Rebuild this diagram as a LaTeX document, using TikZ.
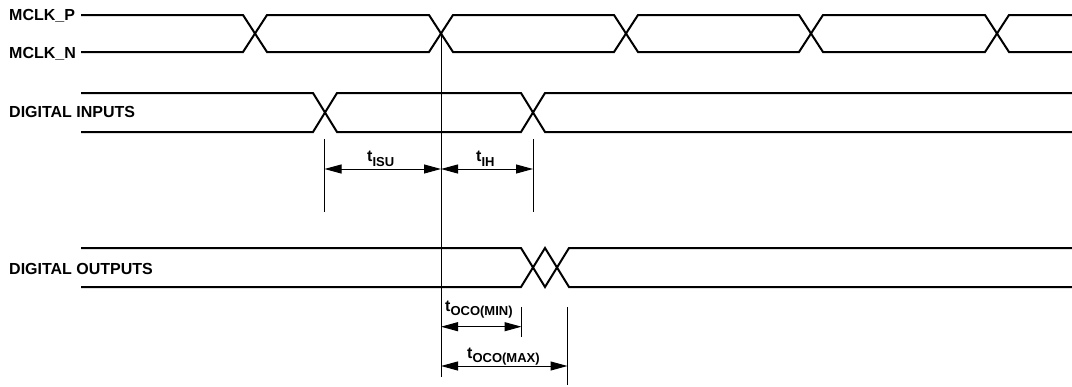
\documentclass[tikz,border=0pt]{standalone}
\usepackage{fontspec}
\setmainfont{Liberation Sans}
\usetikzlibrary{arrows.meta}
\tikzset{
  sig/.style={line width=2pt, line join=miter},
  refline/.style={line width=1pt},
  dimline/.style={line width=1pt, {Triangle[length=17pt,width=9pt]}-{Triangle[length=17pt,width=9pt]}},
  lbl/.style={font=\fontsize{16}{19}\selectfont\bfseries, anchor=base west, inner sep=0pt},
}
\newcommand{\tsubl}[1]{t\raisebox{-4.5pt}{\fontsize{13}{13}\selectfont #1}}
\begin{document}
\begin{tikzpicture}[x=1pt,y=-1pt]
\useasboundingbox (0,0) rectangle (1072,386);
% labels
\node[lbl] (lp) at (9,20) {MCLK\_P};
\node[lbl] (ln) at (9,58) {MCLK\_N};
\node[lbl] (li) at (9,117.7) {DIGITAL INPUTS};
\node[lbl] (lo) at (9,274.3) {DIGITAL OUTPUTS};
% clock
\draw[sig] (81,15) -- (243,15) -- (267,52) -- (429,52) -- (453,15) -- (614,15) -- (638,52) -- (799,52) -- (823,15) -- (985,15) -- (1009,52) -- (1072,52);
\draw[sig] (81,52) -- (243,52) -- (267,15) -- (429,15) -- (453,52) -- (614,52) -- (638,15) -- (799,15) -- (823,52) -- (985,52) -- (1009,15) -- (1072,15);
% inputs
\draw[sig] (81,93) -- (313,93) -- (337,132) -- (521,132) -- (545,93) -- (1072,93);
\draw[sig] (81,132) -- (313,132) -- (337,93) -- (521,93) -- (545,132) -- (1072,132);
% outputs
\draw[sig] (81,248) -- (521,248) -- (545,287) -- (569,248) -- (1072,248);
\draw[sig] (81,287) -- (521,287) -- (545,248) -- (569,287) -- (1072,287);
% reference line
\coordinate (rtop) at (441,33.5);
\coordinate (rbot) at (441,377);
\draw[refline] (rtop) -- (rbot);
% ticks
\coordinate (a1) at (324.5,139); \coordinate (a2) at (324.5,212);
\coordinate (b1) at (533,139);   \coordinate (b2) at (533,212);
\coordinate (c1) at (521.5,307); \coordinate (c2) at (521.5,337);
\coordinate (d1) at (567.5,307); \coordinate (d2) at (567.5,385);
\draw[refline] (a1) -- (a2);
\draw[refline] (b1) -- (b2);
\draw[refline] (c1) -- (c2);
\draw[refline] (d1) -- (d2);
% dimension arrows
\coordinate (isuL) at (324.5,169); \coordinate (isuR) at (441,169);
\coordinate (ihR) at (533,169);
\coordinate (minL) at (441,326.7); \coordinate (minR) at (521.5,326.7);
\coordinate (maxL) at (441,366);   \coordinate (maxR) at (567.5,366);
\draw[dimline] (isuL) -- (isuR);
\draw[dimline] (isuR) -- (ihR);
\draw[dimline] (minL) -- (minR);
\draw[dimline] (maxL) -- (maxR);
% timing labels
\node[lbl] (tisu) at (367,161.7) {\tsubl{ISU}};
\node[lbl] (tih) at (476,161.7) {\tsubl{IH}};
\node[lbl] (tmin) at (445,311) {\tsubl{OCO(MIN)}};
\node[lbl] (tmax) at (467,358.3) {\tsubl{OCO(MAX)}};
\end{tikzpicture}
\end{document}
